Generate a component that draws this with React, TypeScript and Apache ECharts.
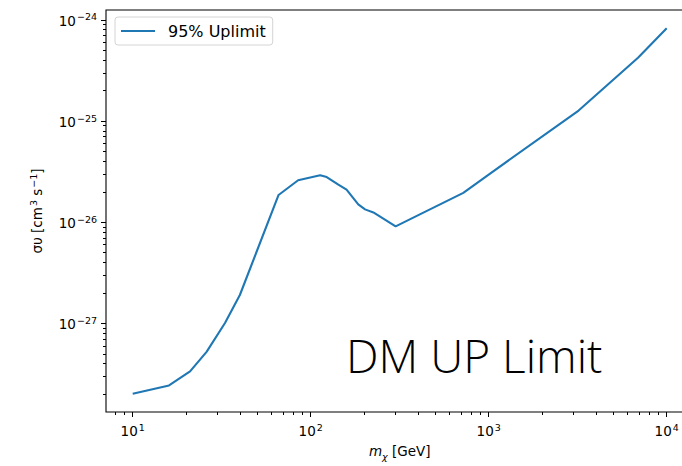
import React, { useEffect, useRef } from "react";
import * as echarts from "echarts";

// Dark-matter annihilation cross-section upper limit
const massGeV = [10, 16, 21, 26, 33, 40, 66, 85, 113, 123, 143, 159, 185, 202, 225, 300, 720, 1000, 3200, 6900, 10000];
const sigmaV = [
  2.02e-28, 2.44e-28, 3.36e-28, 5.24e-28, 1.01e-27, 1.91e-27, 1.86e-26, 2.6e-26, 2.91e-26, 2.8e-26, 2.35e-26,
  2.1e-26, 1.5e-26, 1.34e-26, 1.25e-26, 9.1e-27, 1.95e-26, 2.96e-26, 1.27e-25, 4.23e-25, 8.26e-25,
];
const xTickExponents = [1, 2, 3, 4];
const yTickExponents = [-27, -26, -25, -24];
const seriesName = "95% Uplimit";
const annotationText = "DM UP Limit";

const FONT = "DejaVu Sans";

function logExtent(vals: number[]) {
  const l = vals.map((v) => Math.log10(v));
  const lo = Math.min(...l);
  const hi = Math.max(...l);
  const pad = (hi - lo) * 0.05;
  return [lo - pad, hi + pad];
}

function minorTicks(lo: number, hi: number) {
  const out: number[] = [];
  for (let n = Math.floor(lo); n <= Math.ceil(hi); n++) {
    for (let k = 2; k <= 9; k++) {
      const v = n + Math.log10(k);
      if (v >= lo && v <= hi) out.push(v);
    }
  }
  return out;
}

const supFmt = (v: number) => {
  const e = Math.round(v);
  return `{b|10}{s|${e < 0 ? "\u2212" + Math.abs(e) : e}}`;
};

const labelRich = {
  b: { fontFamily: FONT, fontSize: 13.5, color: "#000", verticalAlign: "bottom" },
  s: { fontFamily: FONT, fontSize: 9.5, color: "#000", verticalAlign: "bottom", padding: [0, 0, 6, 1] },
};

export default function App() {
  const ref = useRef<HTMLDivElement>(null);
  useEffect(() => {
    if (!ref.current) return;
    const chart = echarts.init(ref.current, undefined, { renderer: "svg" });
    const [xMin, xMax] = logExtent(massGeV);
    const [yMin, yMax] = logExtent(sigmaV);
    const data = massGeV.map((m, i) => [Math.log10(m), Math.log10(sigmaV[i])]);

    const tickLine = { color: "#000", width: 1 };

    chart.setOption({
      animation: false,
      grid: {
        left: 106,
        right: 6.6,
        top: 10,
        bottom: 49,
        show: true,
        borderColor: "#000",
        borderWidth: 1.1,
        backgroundColor: "transparent",
      },
      legend: {
        left: 115,
        top: 17,
        orient: "vertical",
        data: [{ name: seriesName, icon: "rect" }],
        itemWidth: 34,
        itemHeight: 2,
        padding: [6, 7, 6, 6],
        borderColor: "#d4d4d4",
        borderWidth: 1,
        borderRadius: 3,
        backgroundColor: "rgba(255,255,255,0.8)",
        itemStyle: { color: "#1f77b4" },
        textStyle: { fontFamily: FONT, fontSize: 16, color: "#000", padding: [0, 0, 0, 8], lineHeight: 16 },
      },
      xAxis: [
        {
          type: "value",
          min: xMin,
          max: xMax,
          name: "{i|m}{sub|\u03c7}{n| [GeV]}",
          nameLocation: "middle",
          nameGap: 32,
          nameTextStyle: {
            rich: {
              i: { fontFamily: FONT, fontStyle: "italic", fontSize: 13.5, color: "#000", verticalAlign: "bottom" },
              sub: { fontFamily: FONT, fontStyle: "italic", fontSize: 9.5, color: "#000", verticalAlign: "bottom", padding: [0, 0, -3, 0] },
              n: { fontFamily: FONT, fontSize: 13.5, color: "#000", verticalAlign: "bottom" },
            },
          },
          axisLine: { show: false },
          axisTick: { show: true, length: 5, lineStyle: tickLine, customValues: xTickExponents },
          axisLabel: { customValues: xTickExponents, formatter: supFmt, rich: labelRich, margin: 10 },
          splitLine: { show: false },
        },
        {
          type: "value",
          min: xMin,
          max: xMax,
          position: "bottom",
          axisLine: { show: false },
          axisTick: { show: true, length: 3, lineStyle: tickLine, customValues: minorTicks(xMin, xMax) },
          axisLabel: { show: false },
          splitLine: { show: false },
        },
      ],
      yAxis: [
        {
          type: "value",
          min: yMin,
          max: yMax,
          name: "{n|\u03c3\u03c5 [cm}{s|3}{n| s}{s|\u22121}{n|]}",
          nameLocation: "middle",
          nameGap: 62,
          nameTextStyle: {
            rich: {
              n: { fontFamily: FONT, fontSize: 13.5, color: "#000", verticalAlign: "bottom" },
              s: { fontFamily: FONT, fontSize: 9.5, color: "#000", verticalAlign: "bottom", padding: [0, 0, 6, 1] },
            },
          },
          axisLine: { show: false },
          axisTick: { show: true, length: 5, lineStyle: tickLine, customValues: yTickExponents },
          axisLabel: { customValues: yTickExponents, formatter: supFmt, rich: labelRich, margin: 9 },
          splitLine: { show: false },
        },
        {
          type: "value",
          min: yMin,
          max: yMax,
          position: "left",
          axisLine: { show: false },
          axisTick: { show: true, length: 3, lineStyle: tickLine, customValues: minorTicks(yMin, yMax) },
          axisLabel: { show: false },
          splitLine: { show: false },
        },
      ],
      graphic: [
        {
          type: "text",
          x: 346,
          y: 355,
          style: {
            text: annotationText,
            fontFamily: "Open Sans",
            fontWeight: 300,
            fontSize: 46,
            fill: "#000",
            verticalAlign: "middle",
            align: "left",
          },
          z: 10,
        },
      ],
      series: [
        {
          name: seriesName,
          type: "line",
          data,
          symbol: "none",
          lineStyle: { color: "#1f77b4", width: 2.1 },
          itemStyle: { color: "#1f77b4" },
          z: 3,
        },
      ],
    });
    return () => chart.dispose();
  }, []);
  return (
    <div style={{ position: "absolute", left: 0, top: 0, width: 682, height: 466, overflow: "hidden" }}>
      <div ref={ref} style={{ width: 700, height: 466 }} />
    </div>
  );
}
